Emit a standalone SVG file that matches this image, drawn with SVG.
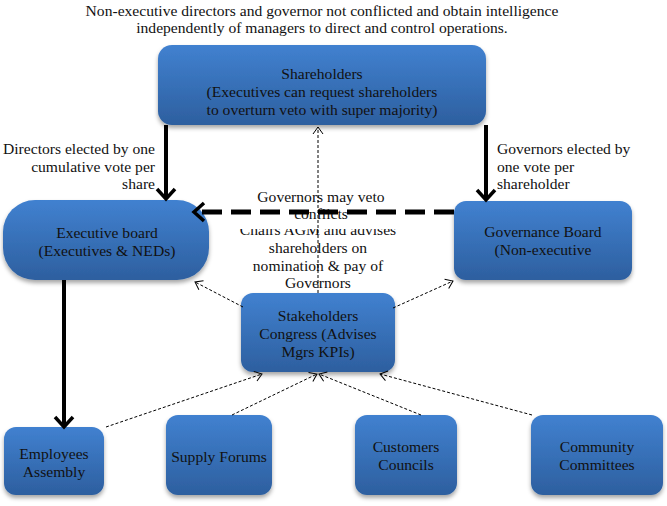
<svg xmlns="http://www.w3.org/2000/svg" width="667" height="506" viewBox="0 0 667 506" font-family="'Liberation Serif', 'Times New Roman', serif" font-size="15.6">
<defs>
<linearGradient id="g" x1="0" y1="0" x2="0" y2="1">
<stop offset="0" stop-color="#4181d0"/>
<stop offset="1" stop-color="#2d5f9f"/>
</linearGradient>
<filter id="sh" x="-10%" y="-10%" width="120%" height="130%">
<feDropShadow dx="0" dy="3" stdDeviation="2" flood-color="#000" flood-opacity="0.35"/>
</filter>
<marker id="big" markerUnits="userSpaceOnUse" markerWidth="24" markerHeight="24" viewBox="-12 -12 24 24" refX="-1" refY="0" orient="auto">
<polyline points="-10,-9 0,0 -10,9" fill="none" stroke="#000" stroke-width="3.5"/>
</marker>
<marker id="small" markerUnits="userSpaceOnUse" markerWidth="16" markerHeight="16" viewBox="-8 -8 16 16" refX="0" refY="0" orient="auto">
<polyline points="-7,-5 0,0 -7,5" fill="none" stroke="#000" stroke-width="1"/>
</marker>
</defs>
<style>
.box{fill:url(#g);filter:url(#sh)}
text{fill:#111}
.c{text-anchor:middle}
.thick{stroke:#000;stroke-width:4;fill:none}
.dot{stroke:#000;stroke-width:1;stroke-dasharray:3,2;fill:none}
</style>
<rect width="667" height="506" fill="#fff"/>
<g id="notes">
<text class="c" x="322" y="16">Non-executive directors and governor not conflicted and obtain intelligence</text>
<text class="c" x="322" y="33">independently of managers to direct and control operations.</text>
<text x="155" y="154" text-anchor="end">Directors elected by one</text>
<text x="155" y="172" text-anchor="end">cumulative vote per</text>
<text x="155" y="189" text-anchor="end">share</text>
<text x="497" y="154">Governors elected by</text>
<text x="497" y="172">one vote per</text>
<text x="497" y="189">shareholder</text>
<text class="c" x="318" y="235">Chairs AGM and advises</text>
<rect x="232" y="186" width="172" height="43" fill="#fff"/>
<text class="c" x="321" y="202">Governors may veto</text>
<text class="c" x="321" y="219">conflicts</text>
<text class="c" x="318" y="253">shareholders on</text>
<text class="c" x="318" y="271">nomination &amp; pay of</text>
<text class="c" x="318" y="288">Governors</text>
</g>
<g id="shareholders">
<rect class="box" x="158" y="45" width="328" height="80" rx="14"/>
<text class="c" x="322" y="79">Shareholders</text>
<text class="c" x="322" y="97">(Executives can request shareholders</text>
<text class="c" x="322" y="115">to overturn veto with super majority)</text>
</g>
<g id="executive-board">
<rect class="box" x="3" y="200" width="206" height="80" rx="32"/>
<text class="c" x="107" y="238">Executive board</text>
<text class="c" x="107" y="256">(Executives &amp; NEDs)</text>
</g>
<g id="governance-board">
<rect class="box" x="454" y="201" width="178" height="79" rx="12"/>
<text class="c" x="543" y="237">Governance Board</text>
<text class="c" x="543" y="255">(Non-executive</text>
</g>
<g id="stakeholders-congress">
<rect class="box" x="241" y="293" width="154" height="79" rx="12"/>
<text class="c" x="318" y="321">Stakeholders</text>
<text class="c" x="318" y="339">Congress (Advises</text>
<text class="c" x="318" y="357">Mgrs KPIs)</text>
</g>
<g id="employees-assembly">
<rect class="box" x="4" y="427" width="100" height="68" rx="12"/>
<text class="c" x="54" y="459">Employees</text>
<text class="c" x="54" y="477">Assembly</text>
</g>
<g id="supply-forums">
<rect class="box" x="166" y="415" width="106" height="80" rx="12"/>
<text class="c" x="219" y="462">Supply Forums</text>
</g>
<g id="customers-councils">
<rect class="box" x="355" y="415" width="102" height="80" rx="12"/>
<text class="c" x="406" y="452">Customers</text>
<text class="c" x="406" y="470">Councils</text>
</g>
<g id="community-committees">
<rect class="box" x="531" y="415" width="132" height="80" rx="12"/>
<text class="c" x="597" y="452">Community</text>
<text class="c" x="597" y="470">Committees</text>
</g>
<g id="connectors">
<line class="thick" x1="166" y1="125" x2="166" y2="198" marker-end="url(#big)"/>
<line class="thick" x1="486" y1="125" x2="486" y2="199" marker-end="url(#big)"/>
<line class="thick" x1="64" y1="280" x2="64" y2="426" marker-end="url(#big)"/>
<line x1="454" y1="212" x2="195" y2="212" stroke="#000" stroke-width="5" stroke-dasharray="20,9" marker-end="url(#big)"/>
<line class="dot" x1="318" y1="293" x2="318" y2="127" marker-end="url(#small)"/>
<line class="dot" x1="243" y1="307" x2="195" y2="282" marker-end="url(#small)"/>
<line class="dot" x1="393" y1="308" x2="453" y2="281" marker-end="url(#small)"/>
<line class="dot" x1="106" y1="427" x2="262" y2="374" marker-end="url(#small)"/>
<line class="dot" x1="232" y1="415" x2="317" y2="374" marker-end="url(#small)"/>
<line class="dot" x1="421" y1="415" x2="319" y2="374" marker-end="url(#small)"/>
<line class="dot" x1="532" y1="415" x2="380" y2="374" marker-end="url(#small)"/>
</g>
</svg>
